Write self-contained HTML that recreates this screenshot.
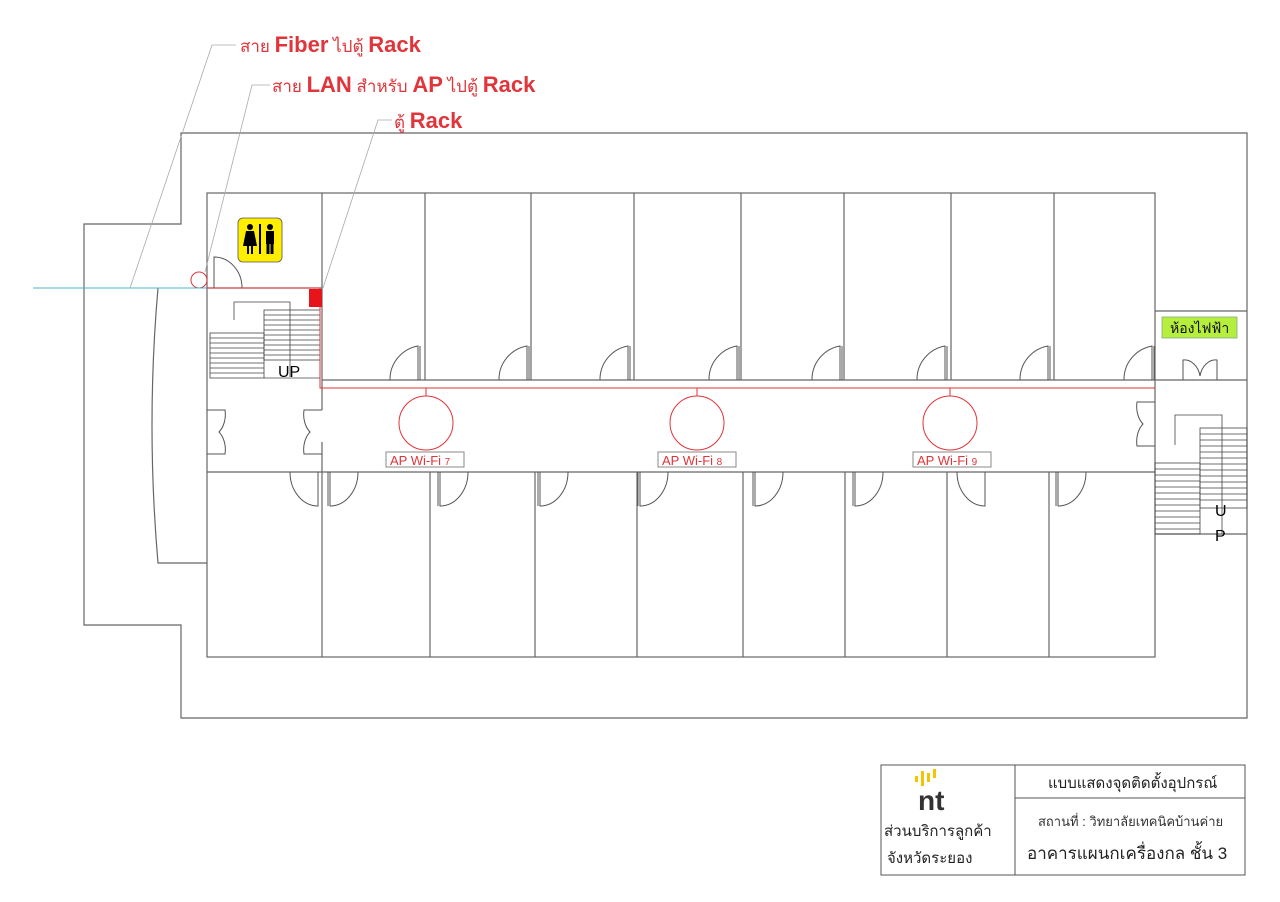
<!DOCTYPE html>
<html><head><meta charset="utf-8"><style>
html,body{margin:0;padding:0;background:#fff;}
svg{display:block;}
text{font-family:"Liberation Sans","Noto Sans CJK SC",sans-serif;}
</style></head><body>
<svg width="1280" height="902" viewBox="0 0 1280 902" xmlns="http://www.w3.org/2000/svg">
<defs>
<g id="dt"><path d="M0,0 V-34 A34,34 0 0 0 -28,0" fill="none" stroke="#555" stroke-width="1"/><line x1="2" y1="0" x2="2" y2="-34" stroke="#555"/></g>
<g id="db"><path d="M0,0 V34 A28,34 0 0 0 28,0" fill="none" stroke="#555" stroke-width="1"/><line x1="-2" y1="0" x2="-2" y2="34" stroke="#555"/></g>
<g id="dbl"><path d="M0,0 V34 A28,34 0 0 1 -28,0" fill="none" stroke="#555" stroke-width="1"/></g>
<g id="dd"><path d="M0,0 H18 A16,22 0 0 1 12,22 A16,22 0 0 1 18,44 H0" fill="none" stroke="#555"/></g>
</defs>
<g fill="none" stroke="#666" stroke-width="1.2">
<path d="M181,224 V133 H1247 V718 H181 V625 H84 V224 Z"/>
<path d="M158,288 Q146,425 158,563 H207"/>
<rect x="207" y="193" width="948" height="464"/>
<line x1="207" y1="288" x2="322" y2="288"/>
<line x1="322" y1="193" x2="322" y2="410"/>
<line x1="322" y1="442" x2="322" y2="657"/>
<line x1="207" y1="472" x2="322" y2="472"/>
<line x1="322" y1="380" x2="1155" y2="380"/>
<line x1="322" y1="472" x2="1155" y2="472"/>
<line x1="425" y1="193" x2="425" y2="380"/><line x1="531" y1="193" x2="531" y2="380"/>
<line x1="634" y1="193" x2="634" y2="380"/><line x1="741" y1="193" x2="741" y2="380"/>
<line x1="844" y1="193" x2="844" y2="380"/><line x1="951" y1="193" x2="951" y2="380"/>
<line x1="1054" y1="193" x2="1054" y2="380"/>
<line x1="430" y1="472" x2="430" y2="657"/><line x1="535" y1="472" x2="535" y2="657"/>
<line x1="637" y1="472" x2="637" y2="657"/><line x1="743" y1="472" x2="743" y2="657"/>
<line x1="845" y1="472" x2="845" y2="657"/><line x1="947" y1="472" x2="947" y2="657"/>
<line x1="1049" y1="472" x2="1049" y2="657"/>
<line x1="1155" y1="311" x2="1247" y2="311"/>
<line x1="1155" y1="380" x2="1247" y2="380"/>
<line x1="1155" y1="534" x2="1247" y2="534"/>
</g>
<g stroke="#444" stroke-width="0.8" fill="none">
<path d="M234,320 V302 H290 V377"/>
<rect x="210" y="333" width="54" height="45"/>
<rect x="264" y="310" width="56" height="50"/>
<path d="M210,338H264M210,343H264M210,348H264M210,353H264M210,358H264M210,363H264M210,368H264M210,373H264"/>
<path d="M264,315H320M264,320H320M264,325H320M264,330H320M264,335H320M264,340H320M264,345H320M264,350H320M264,355H320"/>
<line x1="264" y1="378" x2="320" y2="378"/>
<path d="M1175,445 V415 H1222 V534"/>
<rect x="1200" y="428" width="47" height="80"/>
<path d="M1200,434H1247M1200,440H1247M1200,446H1247M1200,452H1247M1200,458H1247M1200,464H1247M1200,470H1247M1200,476H1247M1200,482H1247M1200,488H1247M1200,494H1247M1200,500H1247"/>
<rect x="1155" y="463" width="45" height="71"/>
<path d="M1155,469H1200M1155,475H1200M1155,481H1200M1155,487H1200M1155,493H1200M1155,499H1200M1155,505H1200M1155,511H1200M1155,517H1200M1155,523H1200M1155,529H1200"/>
</g>
<use href="#dt" x="418" y="380"/><use href="#dt" x="527" y="380"/><use href="#dt" x="628" y="380"/>
<use href="#dt" x="737" y="380"/><use href="#dt" x="840" y="380"/><use href="#dt" x="945" y="380"/>
<use href="#dt" x="1048" y="380"/><use href="#dt" x="1152" y="380"/>
<use href="#dbl" x="318" y="472"/>
<use href="#db" x="330" y="472"/><use href="#db" x="440" y="472"/><use href="#db" x="540" y="472"/>
<use href="#db" x="640" y="472"/><use href="#db" x="755" y="472"/><use href="#db" x="855" y="472"/>
<use href="#dbl" x="985" y="472"/><use href="#db" x="1058" y="472"/>
<path d="M214,288 V257 A28,31 0 0 1 242,288" fill="none" stroke="#555"/>
<use href="#dd" x="207" y="410"/>
<g transform="translate(322,410) scale(-1,1)"><use href="#dd"/></g>
<g transform="translate(1155,402) scale(-1,1)"><use href="#dd"/></g>
<path d="M1183,380 V360 A16,20 0 0 1 1200,376 A16,20 0 0 1 1217,360 V380" fill="none" stroke="#555"/>
<g stroke="#e0353a" fill="none" stroke-width="1">
<polyline points="200,288 320,288 320,388 1155,388"/>
<line x1="426" y1="388" x2="426" y2="396"/><line x1="697" y1="388" x2="697" y2="396"/><line x1="950" y1="388" x2="950" y2="396"/>
<circle cx="426" cy="423" r="27"/><circle cx="697" cy="423" r="27"/><circle cx="950" cy="423" r="27"/>
<ellipse cx="199" cy="280" rx="8" ry="8"/>
</g>
<rect x="309" y="289" width="13" height="18" fill="#e8141b"/>
<line x1="33" y1="288" x2="207" y2="288" stroke="#4fb3c8" stroke-width="1"/>
<g stroke="#aaa" stroke-width="0.8" fill="none">
<polyline points="130,288 212,45 236,45"/>
<polyline points="205,272 252,85 270,85"/>
<polyline points="323,288 378,120 392,120"/>
</g>
<text x="240" y="52" fill="#e0353a" font-size="17">สาย <tspan font-weight="bold" font-size="22">Fiber</tspan> ไปตู้ <tspan font-weight="bold" font-size="22">Rack</tspan></text>
<text x="272" y="92" fill="#e0353a" font-size="17">สาย <tspan font-weight="bold" font-size="22">LAN</tspan> สำหรับ <tspan font-weight="bold" font-size="22">AP</tspan> ไปตู้ <tspan font-weight="bold" font-size="22">Rack</tspan></text>
<text x="394" y="128" fill="#e0353a" font-size="17">ตู้ <tspan font-weight="bold" font-size="22">Rack</tspan></text>
<g font-size="13" fill="#e0353a">
<rect x="386" y="452" width="78" height="15" fill="#fff" stroke="#888"/><text x="390" y="465">AP Wi-Fi <tspan font-size="10">7</tspan></text>
<rect x="658" y="452" width="78" height="15" fill="#fff" stroke="#888"/><text x="662" y="465">AP Wi-Fi <tspan font-size="10">8</tspan></text>
<rect x="913" y="452" width="78" height="15" fill="#fff" stroke="#888"/><text x="917" y="465">AP Wi-Fi <tspan font-size="10">9</tspan></text>
</g>
<text x="278" y="377" font-size="16" fill="#000">UP</text>
<text x="1215" y="516" font-size="16" fill="#000">U</text>
<text x="1215" y="541" font-size="16" fill="#000">P</text>
<rect x="238" y="218" width="44" height="44" rx="5" fill="#ffee00" stroke="#555" stroke-width="0.8"/>
<g fill="#000">
<circle cx="250" cy="227" r="3"/><path d="M246,231 H254 L257,246 H243 Z"/><rect x="247" y="245" width="2" height="9"/><rect x="251" y="245" width="2" height="9"/>
<rect x="259" y="224" width="2" height="30"/>
<circle cx="270" cy="227" r="3"/><rect x="266" y="231" width="8" height="13"/><rect x="266.5" y="243" width="3" height="11"/><rect x="270.5" y="243" width="3" height="11"/>
</g>
<rect x="1162" y="317" width="75" height="21" fill="#b5ee3c" stroke="#8a8" stroke-width="0.8"/>
<text x="1170" y="333" font-size="14" fill="#111">ห้องไฟฟ้า</text>
<g fill="none" stroke="#555" stroke-width="1">
<rect x="881" y="765" width="364" height="110"/>
<line x1="1015" y1="765" x2="1015" y2="875"/>
<line x1="1015" y1="798" x2="1245" y2="798"/>
</g>
<g fill="#f5c400"><rect x="915" y="776" width="3" height="6"/><rect x="921" y="771" width="3" height="15"/><rect x="927" y="773" width="3" height="9"/><rect x="933" y="769" width="3" height="9"/></g>
<text x="918" y="810" font-size="28" font-weight="bold" fill="#333">nt</text>
<text x="884" y="836" font-size="15" fill="#222">ส่วนบริการลูกค้า</text>
<text x="887" y="863" font-size="15" fill="#222">จังหวัดระยอง</text>
<text x="1048" y="788" font-size="15" fill="#222">แบบแสดงจุดติดตั้งอุปกรณ์</text>
<text x="1038" y="826" font-size="13" fill="#333">สถานที่ : วิทยาลัยเทคนิคบ้านค่าย</text>
<text x="1027" y="859" font-size="17" fill="#222">อาคารแผนกเครื่องกล ชั้น 3</text>
</svg>
</body></html>
